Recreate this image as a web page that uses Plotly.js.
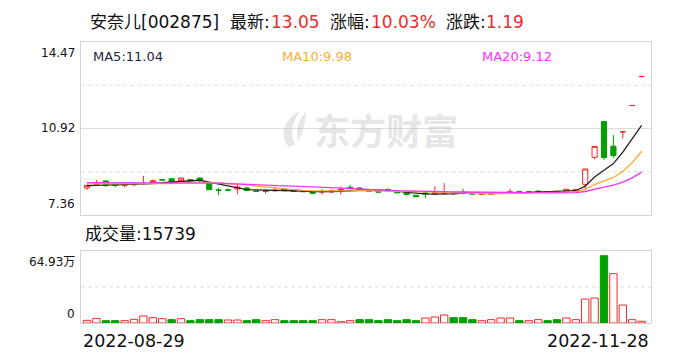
<!DOCTYPE html>
<html><head><meta charset="utf-8">
<script src="https://cdn.plot.ly/plotly-3.0.1.min.js"></script>
<style>html,body{margin:0;padding:0;background:#fff}#chart{width:688px;height:360px}</style>
</head><body><div id="chart"></div>
<script>
const dates = ['2022-08-29','2022-08-30','2022-08-31','2022-09-01','2022-09-02','2022-09-05','2022-09-06','2022-09-07','2022-09-08','2022-09-09',
'2022-09-13','2022-09-14','2022-09-15','2022-09-16','2022-09-19','2022-09-20','2022-09-21','2022-09-22','2022-09-23','2022-09-26',
'2022-09-27','2022-09-28','2022-09-29','2022-09-30','2022-10-10','2022-10-11','2022-10-12','2022-10-13','2022-10-14','2022-10-17',
'2022-10-18','2022-10-19','2022-10-20','2022-10-21','2022-10-24','2022-10-25','2022-10-26','2022-10-27','2022-10-28','2022-10-31',
'2022-11-01','2022-11-02','2022-11-03','2022-11-04','2022-11-07','2022-11-08','2022-11-09','2022-11-10','2022-11-11','2022-11-14',
'2022-11-15','2022-11-16','2022-11-17','2022-11-18','2022-11-21','2022-11-22','2022-11-23','2022-11-24','2022-11-25','2022-11-28'];

const open = [8.47,8.60,8.76,8.60,8.58,8.60,8.64,8.69,8.81,8.85,
8.77,8.82,8.88,8.67,8.39,8.39,8.43,8.47,8.34,8.33,
8.35,8.43,8.34,8.34,8.32,8.30,8.31,8.37,8.50,8.47,
8.36,8.35,8.41,8.33,8.29,8.17,8.27,8.23,8.24,8.29,
8.30,8.26,8.20,8.21,8.24,8.27,8.33,8.31,8.34,8.29,
8.30,8.31,8.33,8.62,9.73,11.20,10.19,10.78,11.86,13.05];
const high = [8.60,8.80,8.78,8.64,8.70,8.68,8.96,8.82,8.84,8.86,
8.89,8.84,8.89,8.68,8.47,8.45,8.63,8.52,8.38,8.42,
8.53,8.45,8.36,8.36,8.33,8.42,8.42,8.54,8.60,8.50,
8.37,8.36,8.45,8.34,8.30,8.18,8.30,8.54,8.67,8.32,
8.44,8.28,8.24,8.25,8.30,8.44,8.35,8.33,8.38,8.33,
8.33,8.43,8.43,9.25,10.18,11.20,10.65,10.78,11.86,13.05];
const low = [8.39,8.56,8.50,8.50,8.50,8.56,8.62,8.66,8.77,8.70,
8.75,8.74,8.72,8.38,8.17,8.33,8.22,8.34,8.30,8.24,
8.33,8.33,8.31,8.31,8.22,8.20,8.26,8.20,8.43,8.42,
8.32,8.28,8.33,8.26,8.17,8.10,8.05,8.22,8.22,8.18,
8.20,8.20,8.19,8.19,8.23,8.26,8.27,8.27,8.28,8.28,
8.28,8.30,8.31,8.39,9.65,9.63,9.71,10.50,11.86,13.05];
const close = [8.58,8.63,8.58,8.58,8.60,8.62,8.66,8.77,8.80,8.72,
8.88,8.76,8.78,8.40,8.37,8.38,8.51,8.37,8.33,8.35,
8.37,8.36,8.33,8.32,8.25,8.33,8.36,8.42,8.44,8.43,
8.34,8.30,8.35,8.27,8.20,8.11,8.22,8.29,8.28,8.25,
8.26,8.22,8.23,8.24,8.28,8.31,8.29,8.30,8.31,8.32,
8.33,8.42,8.41,9.25,10.18,9.72,9.80,10.78,11.86,13.05];

const ma5 = [8.57,8.58,8.59,8.59,8.594,8.602,8.608,8.646,8.69,8.714,
8.766,8.786,8.788,8.708,8.638,8.538,8.488,8.406,8.392,8.388,
8.386,8.356,8.348,8.346,8.326,8.318,8.318,8.336,8.36,8.396,
8.398,8.386,8.372,8.338,8.292,8.246,8.23,8.218,8.22,8.23,
8.26,8.26,8.248,8.24,8.246,8.256,8.27,8.284,8.298,8.306,
8.31,8.336,8.358,8.546,8.918,9.196,9.472,9.946,10.468,11.04];
const ma10 = [8.64,8.64,8.64,8.63,8.63,8.63,8.63,8.64,8.65,8.654,
8.684,8.697,8.717,8.699,8.676,8.652,8.637,8.597,8.55,8.513,
8.462,8.422,8.377,8.369,8.357,8.352,8.337,8.342,8.353,8.361,
8.358,8.352,8.354,8.349,8.344,8.322,8.308,8.295,8.279,8.261,
8.253,8.245,8.233,8.23,8.238,8.258,8.265,8.266,8.269,8.276,
8.283,8.303,8.321,8.422,8.612,8.753,8.904,9.152,9.507,9.98];
const ma20 = [8.69,8.69,8.69,8.69,8.69,8.69,8.69,8.69,8.69,8.69,
8.69,8.69,8.69,8.68,8.67,8.65,8.63,8.61,8.60,8.584,
8.573,8.56,8.547,8.534,8.517,8.502,8.487,8.47,8.452,8.437,
8.41,8.387,8.366,8.359,8.351,8.337,8.323,8.319,8.316,8.311,
8.306,8.299,8.294,8.29,8.291,8.29,8.287,8.281,8.274,8.269,
8.268,8.274,8.277,8.326,8.425,8.506,8.585,8.709,8.888,9.12];

const volume = [24000,42000,21000,21000,21000,33000,63000,48000,39000,30000,
39000,21000,30000,30000,30000,27000,27000,21000,30000,21000,
30000,21000,21000,21000,21000,30000,30000,12000,21000,30000,
30000,21000,30000,21000,30000,21000,45000,54000,72000,48000,
48000,30000,21000,30000,45000,45000,21000,21000,30000,21000,
30000,45000,30000,216000,225000,607000,445000,162000,30000,15739];
const volumeUp = [1,1,0,0,1,1,1,1,1,0,
1,0,0,0,0,1,1,0,0,1,
1,0,0,0,0,1,1,1,1,0,
0,0,0,0,0,0,1,1,1,0,
0,0,1,1,1,1,0,1,1,0,
0,1,1,1,1,0,1,1,1,1];

const priceTicks = [7.36, 10.92, 14.47];
const volumeTicks = [0, 649300];
const volumeTickText = ['0', '64.93万'];
const stockName = '安奈儿[002875]';
const headerLabels = ['最新:', '涨幅:', '涨跌:'];
const headerValues = ['13.05', '10.03%', '1.19'];
const maNames = ['MA5', 'MA10', 'MA20'];
const lastVolume = 15739;

const RED = '#ee2a2a', GREEN = '#00a000';
const MA_COLORS = ['#222222', '#f8ad35', '#f535f5'];
const WM = 'rgba(195,195,195,0.42)';
const W = 688, H = 360, L = 81, R = 37;
const px = x => (x - L) / (W - L - R);
const py = y => 1 - y / H;
const FONT = 'DejaVu Sans, Noto Sans CJK SC, sans-serif';

const traces = [
  {type: 'candlestick', x: dates, open: open, high: high, low: low, close: close,
   xaxis: 'x', yaxis: 'y', whiskerwidth: 0, hoverinfo: 'skip',
   increasing: {line: {color: RED, width: 1}, fillcolor: '#ffffff'},
   decreasing: {line: {color: GREEN, width: 1}, fillcolor: GREEN}},
  {type: 'scatter', mode: 'lines', x: dates, y: ma5, xaxis: 'x', yaxis: 'y', line: {color: MA_COLORS[0], width: 1.3}, hoverinfo: 'skip'},
  {type: 'scatter', mode: 'lines', x: dates, y: ma10, xaxis: 'x', yaxis: 'y', line: {color: MA_COLORS[1], width: 1.3}, hoverinfo: 'skip'},
  {type: 'scatter', mode: 'lines', x: dates, y: ma20, xaxis: 'x', yaxis: 'y', line: {color: MA_COLORS[2], width: 1.3}, hoverinfo: 'skip'},
  {type: 'bar', x: dates, y: volume, xaxis: 'x2', yaxis: 'y2', width: 0.78, hoverinfo: 'skip',
   marker: {color: volumeUp.map(u => u ? '#ffffff' : GREEN),
            line: {color: volumeUp.map(u => u ? RED : GREEN), width: 1}}}
];

const pMin = priceTicks[0], pMax = priceTicks[2];
const axisBase = {showgrid: false, zeroline: false, showline: true, mirror: true,
  linecolor: '#d4d4d4', linewidth: 1, ticks: '', showticklabels: false, fixedrange: true};
const xBase = Object.assign({}, axisBase, {type: 'category', categoryorder: 'array',
  categoryarray: dates, range: [-0.64, dates.length], rangeslider: {visible: false}});

const grid = (yref, y, dash) => ({type: 'line', xref: 'paper', x0: 0, x1: 1, yref: yref, y0: y, y1: y,
  line: {color: '#dcdcdc', width: 1, dash: dash}, layer: 'below'});
// watermark logo (decorative), built from pixel points
const P = pts => pts.map(p => typeof p === 'string' ? p : (px(p[0]).toFixed(4) + ',' + py(p[1]).toFixed(4))).join(' ');
const shapes = [
  grid('y', (pMin + pMax) / 2, 'solid'),
  grid('y', pMin + (pMax - pMin) * 0.75, '4px,3px'),
  grid('y', pMin + (pMax - pMin) * 0.25, '4px,3px'),
  grid('y2', volumeTicks[1] / 2, '4px,3px'),
  {type: 'path', xref: 'paper', yref: 'paper', layer: 'below', line: {width: 0}, fillcolor: WM,
   path: P(['M', [289, 147], 'C', [279, 136], [283, 119], [300, 111], 'C', [292, 122], [290, 134], [295, 145], 'Z'])},
  {type: 'path', xref: 'paper', yref: 'paper', layer: 'below', line: {width: 0}, fillcolor: WM,
   path: P(['M', [298, 141], 'C', [295, 129], [299, 118], [306, 112], 'C', [305, 124], [303, 133], [298, 141], 'Z'])}
];

const ann = [];
const txt = (text, x, y, opts) => ann.push(Object.assign({text: text, x: px(x), y: py(y), xref: 'paper', yref: 'paper',
  xanchor: 'left', yanchor: 'middle', showarrow: false, font: {family: FONT, size: 17, color: '#111'}}, opts || {}));

// watermark text
ann.push({text: '<b>东方财富</b>', x: px(386), y: py(129), xref: 'paper', yref: 'paper', showarrow: false,
  xanchor: 'center', yanchor: 'middle', font: {family: 'Noto Sans CJK SC', size: 36, color: WM}});

// header
txt(stockName, 88, 22);
const hdrLabelX = [228, 328, 444], hdrValueX = [269, 369, 484];
headerLabels.forEach((t, i) => {
  txt(t, hdrLabelX[i], 22);
  txt(headerValues[i], hdrValueX[i], 22, {font: {family: FONT, size: 17, color: RED}});
});
// MA labels
const maLast = [ma5, ma10, ma20].map(a => a[a.length - 1].toFixed(2));
const maX = [91, 280, 480];
maNames.forEach((n, i) => txt(n + ':' + maLast[i], maX[i], 56, {font: {family: FONT, size: 13, color: i === 0 ? '#1e1e3a' : MA_COLORS[i]}}));
// volume title
txt('成交量:' + lastVolume, 83, 234);
// price axis labels
const yl = {family: FONT, size: 12, color: '#111'};
priceTicks.forEach((v, i) => ann.push({text: v.toFixed(2), x: 0, xref: 'paper', y: v, yref: 'y', xanchor: 'right', xshift: -4,
  yanchor: i === 0 ? 'bottom' : (i === 2 ? 'top' : 'middle'), yshift: i === 0 ? 2 : (i === 2 ? -2 : 0),
  showarrow: false, font: yl}));
volumeTicks.forEach((v, i) => ann.push({text: volumeTickText[i], x: 0, xref: 'paper', y: v, yref: 'y2', xanchor: 'right', xshift: -4,
  yanchor: i === 0 ? 'bottom' : 'top', yshift: i === 0 ? 0 : -2, showarrow: false, font: yl}));
// date labels
ann.push({text: dates[0], x: 0, xref: 'paper', y: py(340.5), yref: 'paper', xanchor: 'left', yanchor: 'middle', showarrow: false,
  font: {family: FONT, size: 17.5, color: '#111'}});
ann.push({text: dates[dates.length - 1], x: 1, xref: 'paper', y: py(340.5), yref: 'paper', xanchor: 'right', yanchor: 'middle', showarrow: false,
  font: {family: FONT, size: 17.5, color: '#111'}});

const layout = {
  width: W, height: H, margin: {l: L, r: R, t: 0, b: 0, pad: 0},
  paper_bgcolor: '#ffffff', plot_bgcolor: '#ffffff', showlegend: false, hovermode: false,
  boxgap: 0.22, barmode: 'overlay',
  xaxis: Object.assign({}, xBase, {anchor: 'y', domain: [0, 1]}),
  xaxis2: Object.assign({}, xBase, {anchor: 'y2', domain: [0, 1], matches: 'x'}),
  yaxis: Object.assign({}, axisBase, {domain: [py(215), py(42)], range: [pMin, pMax]}),
  yaxis2: Object.assign({}, axisBase, {domain: [py(323), py(251)], range: volumeTicks}),
  shapes: shapes, annotations: ann
};
Plotly.newPlot('chart', traces, layout, {displayModeBar: false, staticPlot: true});
</script></body></html>
